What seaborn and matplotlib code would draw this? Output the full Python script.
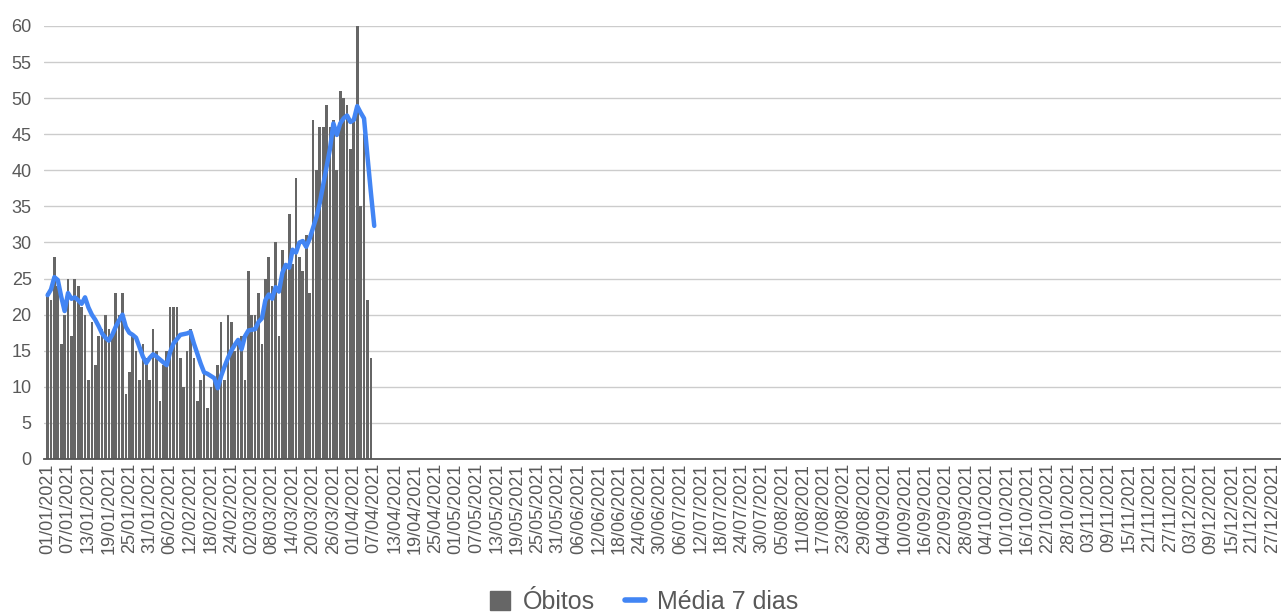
import matplotlib
matplotlib.use("Agg")
import matplotlib.pyplot as plt
from matplotlib.patches import Patch
from matplotlib.lines import Line2D
import seaborn as sns
import pandas as pd

# Óbitos diários desde 01/01/2021
obitos = [23, 22, 28, 24, 16, 20, 25, 17, 25, 24, 21, 20, 11, 19, 13, 17, 18, 20, 18, 17,
          23, 20, 23, 9, 12, 17, 15, 11, 16, 14, 11, 18, 15, 8, 13, 15, 21, 21, 21, 14,
          10, 15, 18, 14, 8, 11, 12, 7, 10, 11, 13, 19, 11, 20, 19, 15, 16, 17, 11, 26,
          20, 20, 23, 16, 25, 28, 24, 30, 17, 29, 27, 34, 27, 39, 28, 26, 31, 23, 47, 40,
          46, 46, 49, 46, 47, 40, 51, 50, 49, 43, 47, 60, 35, 45, 22, 14, 0]

# Média móvel de 7 dias
media_7 = [22.7, 23.5, 25.2, 24.8, 22.5, 20.5, 23.0, 22.2, 22.4, 22.0, 21.5, 22.4, 21.0, 20.0,
           19.3, 18.4, 17.4, 16.8, 16.4, 17.2, 18.3, 19.2, 20.0, 18.3, 17.5, 17.2, 16.8, 15.5,
           14.2, 13.3, 14.0, 14.5, 14.2, 13.8, 13.4, 13.0, 14.8, 16.0, 16.6, 17.2, 17.3, 17.4,
           17.6, 16.0, 14.6, 13.2, 12.0, 11.8, 11.5, 11.2, 9.8, 11.5, 12.8, 14.0, 15.0, 15.8,
           16.5, 15.2, 17.0, 17.8, 17.9, 18.0, 19.0, 19.5, 22.0, 22.8, 22.2, 23.8, 23.2, 25.8,
           26.9, 26.5, 29.0, 28.6, 30.0, 30.2, 29.4, 30.5, 32.0, 33.5, 35.5, 38.0, 40.5, 43.0,
           46.5, 44.9, 46.5, 47.2, 47.6, 46.7, 47.0, 48.9, 48.0, 47.2, 42.0, 37.0, 32.3]

inicio = "2021-01-01"
tick_every = 6
n_ticks = 61

df = pd.DataFrame({
    "dia": range(len(obitos)),
    "obitos": obitos,
    "media": media_7,
})
datas = pd.date_range(inicio, periods=365, freq="D")
tick_pos = list(range(0, tick_every * n_ticks, tick_every))
tick_lab = [datas[i].strftime("%d/%m/%Y") for i in tick_pos]

sns.set_style("white")
plt.rcParams["font.family"] = ["Liberation Sans", "DejaVu Sans"]

BAR = "#666666"
BLUE = "#4285F4"
TXT = "#595959"

fig = plt.figure(figsize=(12.81, 6.16), dpi=100)
ax = fig.add_axes([0.0345, 0.2549, 0.9655, 0.7029])

sns.barplot(data=df, x="dia", y="obitos", native_scale=True, color=BAR,
            width=0.78, errorbar=None, saturation=1, linewidth=0, edgecolor=BAR,
            ax=ax, zorder=2)
sns.lineplot(data=df, x="dia", y="media", color=BLUE, linewidth=3.2, ax=ax, zorder=3)

ax.set_xlim(-1.0, 362.5)
ax.set_ylim(0, 60)
ax.set_yticks(range(0, 61, 5))
ax.set_xticks(tick_pos)
ax.set_xticklabels(tick_lab, rotation=90, fontsize=13, color=TXT)
ax.tick_params(axis="y", labelsize=13, labelcolor=TXT, length=0, pad=9)
ax.tick_params(axis="x", length=0, pad=3)
ax.set_xlabel("")
ax.set_ylabel("")

ax.yaxis.grid(True, color="#cccccc", linewidth=1.0, zorder=0)
ax.xaxis.grid(False)
ax.set_axisbelow(True)
for s in ["left", "right", "top"]:
    ax.spines[s].set_visible(False)
ax.spines["bottom"].set_color("#555555")
ax.spines["bottom"].set_linewidth(1.3)

handles = [Patch(facecolor=BAR, edgecolor=BAR, label="Óbitos"),
           Line2D([0], [0], color=BLUE, linewidth=4, label="Média 7 dias")]
leg = fig.legend(handles=handles, loc="center", bbox_to_anchor=(0.503, 0.022), ncol=2,
                 frameon=False, fontsize=18, handlelength=0.8, handleheight=0.8,
                 handletextpad=0.5, columnspacing=1.2)
for t in leg.get_texts():
    t.set_color(TXT)

fig.savefig("out.png", dpi=100)
